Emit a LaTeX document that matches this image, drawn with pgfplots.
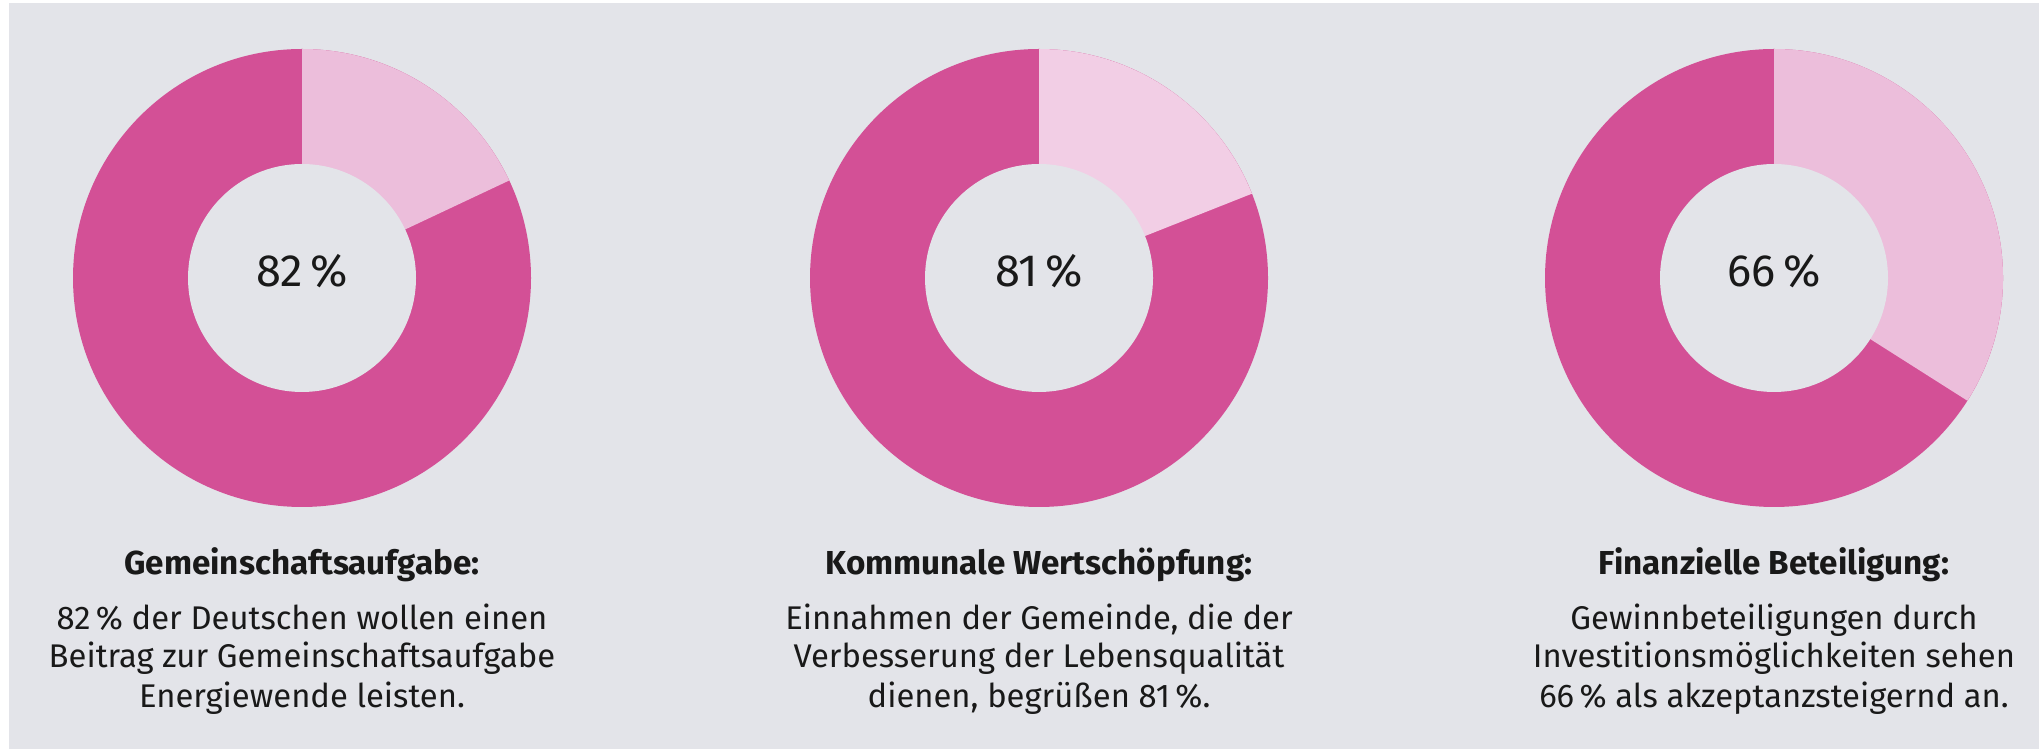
\documentclass[border=0pt]{standalone}
\usepackage{pgfplots}
\pgfplotsset{compat=1.18}
\usepackage{pgfplotstable}
\usepackage{fontspec}
\setmainfont{Fira Sans}
\definecolor{bg}{HTML}{E3E4E9}
\definecolor{dark}{HTML}{D35096}
\definecolor{lighta}{HTML}{ECBEDB}
\definecolor{lightb}{HTML}{F2CEE5}
% donut centres in pixel units (y measured upwards), share in percent
\pgfplotstableread{
cx cy val
302 471 82
1039 471 81
1774 471 66
}\donuts
\newcommand{\donut}[2]{%
  \pgfplotstablegetelem{#1}{cx}\of\donuts \edef\dcx{\pgfplotsretval}%
  \pgfplotstablegetelem{#1}{cy}\of\donuts \edef\dcy{\pgfplotsretval}%
  \pgfplotstablegetelem{#1}{val}\of\donuts \edef\dval{\pgfplotsretval}%
  \pgfmathsetmacro{\dend}{90-3.6*(100-\dval)}%
  \pgfmathsetmacro{\dly}{\dcy+7}%
  \edef\dodonut{%
    \noexpand\fill[dark] (axis cs:\dcx,\dcy) circle[radius=57.25pt];
    \noexpand\fill[#2] (axis cs:\dcx,\dcy) -- ++(90:57.25pt) arc[start angle=90,end angle=\dend,radius=57.25pt] -- cycle;
    \noexpand\fill[bg] (axis cs:\dcx,\dcy) circle[radius=28.5pt];
    \noexpand\node[font=\noexpand\fontsize{11.3}{13}\noexpand\selectfont, text=black!90] at (axis cs:\dcx,\dly) {\dval\noexpand\,\noexpand\%};
  }%
  \dodonut
}
\begin{document}
\begin{tikzpicture}
\begin{axis}[width=510.5pt,height=187.25pt,scale only axis,hide axis,
  xmin=0,xmax=2042,ymin=0,ymax=749,clip=false]
\fill[white] (axis cs:0,0) rectangle (axis cs:2042,749);
\fill[bg] (axis cs:9,0) rectangle (axis cs:2039,746);
\donut{0}{lighta}
\donut{1}{lightb}
\donut{2}{lighta}
\tikzset{ttl/.style={anchor=base,font=\fontsize{8.3}{10}\selectfont\bfseries,text=black!90},
  dsc/.style={anchor=base,font=\fontsize{8.2}{9.75}\selectfont,text=black!90}}
\node[ttl] at (axis cs:302,174) {Gemeinschaftsaufgabe:};
\node[ttl] at (axis cs:1039,174) {Kommunale Wertschöpfung:};
\node[ttl] at (axis cs:1774,174) {Finanzielle Beteiligung:};
\node[dsc] at (axis cs:302,120) {82\,\% der Deutschen wollen einen};
\node[dsc] at (axis cs:302,81) {Beitrag zur Gemeinschaftsaufgabe};
\node[dsc] at (axis cs:302,42) {Energiewende leisten.};
\node[dsc] at (axis cs:1039,120) {Einnahmen der Gemeinde, die der};
\node[dsc] at (axis cs:1039,81) {Verbesserung der Lebensqualität};
\node[dsc] at (axis cs:1039,42) {dienen, begrüßen 81\,\%.};
\node[dsc] at (axis cs:1774,120) {Gewinnbeteiligungen durch};
\node[dsc] at (axis cs:1774,81) {Investitionsmöglichkeiten sehen};
\node[dsc] at (axis cs:1774,42) {66\,\% als akzeptanzsteigernd an.};
\end{axis}
\end{tikzpicture}
\end{document}
